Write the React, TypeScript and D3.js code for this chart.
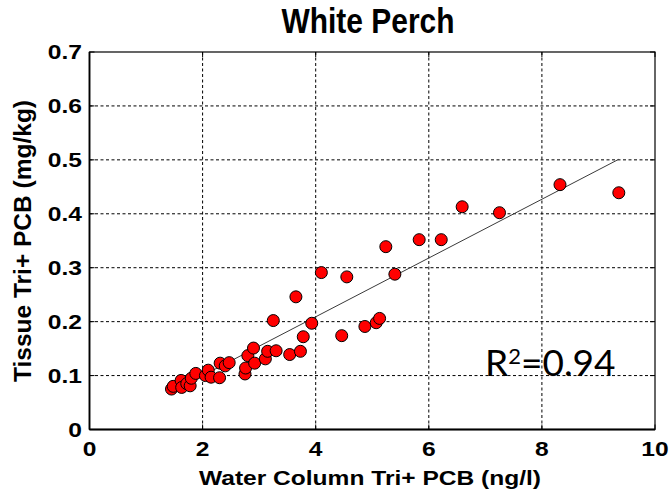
import React from "react";
import * as d3 from "d3";

const waterPCB = [1.45,1.48,1.62,1.63,1.72,1.78,1.80,1.88,2.05,2.10,2.15,2.30,2.31,2.40,2.47,2.75,2.76,2.80,2.92,2.90,3.11,3.15,3.25,3.30,3.54,3.65,3.73,3.78,3.93,4.10,4.46,4.55,4.87,5.07,5.13,5.24,5.40,5.83,6.22,6.59,7.25,8.32,9.36];
const tissuePCB = [0.075,0.080,0.091,0.078,0.085,0.081,0.095,0.104,0.100,0.110,0.097,0.096,0.123,0.118,0.124,0.103,0.114,0.137,0.123,0.151,0.131,0.145,0.202,0.146,0.139,0.246,0.145,0.172,0.197,0.291,0.174,0.283,0.191,0.198,0.206,0.339,0.288,0.352,0.352,0.413,0.402,0.454,0.439];
const fitSlope = 0.0545;
const fitIntercept = -0.009;
const xTicks = [0, 2, 4, 6, 8, 10];
const yTicks = [0, 0.1, 0.2, 0.3, 0.4, 0.5, 0.6, 0.7];
const titleText = "White Perch";
const xLabel = "Water Column Tri+ PCB (ng/l)";
const yLabel = "Tissue Tri+ PCB (mg/kg)";
const r2Value = "0.94";

const W = 670, H = 494;
const left = 89.5, right = 655, top = 52, bottom = 429.5;
const FONT = "'Liberation Sans', Arial, sans-serif";

export default function App() {
  const x = d3.scaleLinear().domain([0, 10]).range([left, right]);
  const y = d3.scaleLinear().domain([0, 0.7]).range([bottom, top]);
  const xr = d3.extent(waterPCB) as [number, number];
  const line = d3.line<number>().x((d) => x(d)).y((d) => y(fitSlope * d + fitIntercept));
  const tick = 5;
  return (
    <svg width={W} height={H} style={{ position: "absolute", left: 0, top: 0, background: "#fff" }}>
      <rect x={0} y={0} width={W} height={H} fill="#fff" />
      {xTicks.slice(1, -1).map((t) => (
        <line key={"gx" + t} x1={x(t)} x2={x(t)} y1={top} y2={bottom} stroke="#000" strokeWidth={1} strokeDasharray="3,2.5" />
      ))}
      {yTicks.slice(1, -1).map((t) => (
        <line key={"gy" + t} x1={left} x2={right} y1={y(t)} y2={y(t)} stroke="#000" strokeWidth={1} strokeDasharray="3,2.5" />
      ))}
      {xTicks.map((t) => (
        <g key={"tx" + t}>
          <line x1={x(t)} x2={x(t)} y1={bottom} y2={bottom - tick} stroke="#000" />
          <line x1={x(t)} x2={x(t)} y1={top} y2={top + tick} stroke="#000" />
        </g>
      ))}
      {yTicks.map((t) => (
        <g key={"ty" + t}>
          <line x1={left} x2={left + tick} y1={y(t)} y2={y(t)} stroke="#000" />
          <line x1={right} x2={right - tick} y1={y(t)} y2={y(t)} stroke="#000" />
        </g>
      ))}
      <rect x={left} y={top} width={right - left} height={bottom - top} fill="none" stroke="#000" strokeWidth={1.2} />
      <line x1={left} x2={left} y1={top} y2={bottom} stroke="#000" strokeWidth={1.8} />
      <line x1={left} x2={right} y1={bottom} y2={bottom} stroke="#000" strokeWidth={1.8} />
      <path d={line(xr) || ""} fill="none" stroke="#3a3a3a" strokeWidth={1} />
      {waterPCB.map((v, i) => (
        <circle key={i} cx={x(v)} cy={y(tissuePCB[i])} r={6} fill="#ff0000" stroke="#000" strokeWidth={1} />
      ))}
      {xTicks.map((t) => (
        <text key={"lx" + t} transform={`translate(${x(t)},456) scale(1.2,1)`} textAnchor="middle" fontFamily={FONT} fontWeight="bold" fontSize={20.5} fill="#000">
          {d3.format("d")(t)}
        </text>
      ))}
      {yTicks.map((t) => (
        <text key={"ly" + t} transform={`translate(82,${y(t) + 7}) scale(1.2,1)`} textAnchor="end" fontFamily={FONT} fontWeight="bold" fontSize={20.5} fill="#000">
          {t === 0 ? "0" : d3.format(".1f")(t)}
        </text>
      ))}
      <text x={370} y={485} textAnchor="middle" fontFamily={FONT} fontWeight="bold" fontSize={21} textLength={342} lengthAdjust="spacingAndGlyphs" fill="#000">
        {xLabel}
      </text>
      <text transform={`translate(31,241) rotate(-90)`} textAnchor="middle" fontFamily={FONT} fontWeight="bold" fontSize={23} textLength={282} lengthAdjust="spacingAndGlyphs" fill="#000">
        {yLabel}
      </text>
      <text x={368} y={33} textAnchor="middle" fontFamily={FONT} fontWeight="bold" fontSize={35} textLength={173} lengthAdjust="spacingAndGlyphs" fill="#000">
        {titleText}
      </text>
      <text x={485} y={375.5} fontFamily="Lato, 'Open Sans', sans-serif" fontSize={37} fill="#000">
        R<tspan fontSize={22} dy={-12}>2</tspan><tspan dy={12}>={r2Value}</tspan>
      </text>
    </svg>
  );
}
